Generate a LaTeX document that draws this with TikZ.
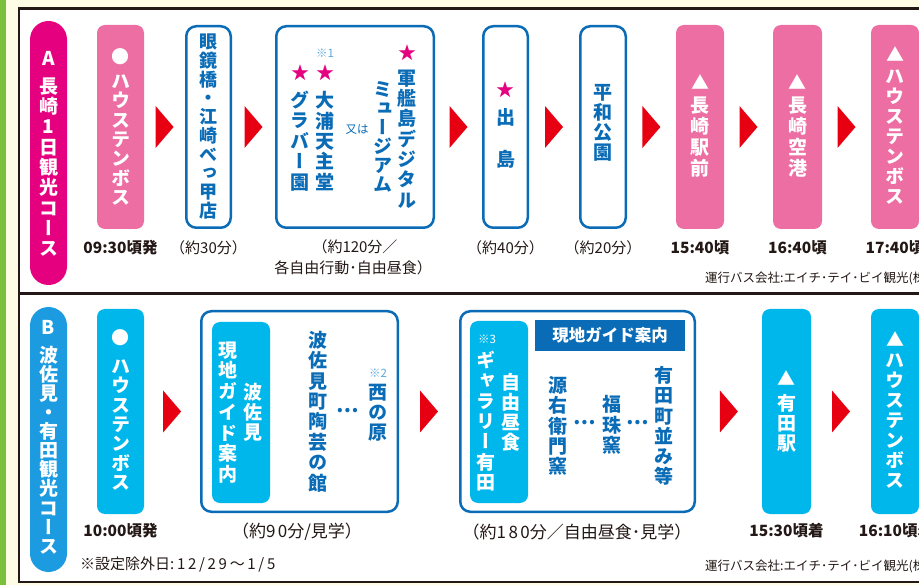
\documentclass[tikz,border=0pt]{standalone}
\usepackage{fontspec}
\setmainfont{Noto Sans CJK JP}
\newfontfamily\jpv[RawFeature=+vert, BoldFont={Noto Sans CJK JP Black}]{Noto Sans CJK JP}
\usetikzlibrary{calc}
\definecolor{cream}{HTML}{FFFCE5}
\definecolor{greenbar}{HTML}{7CBF3A}
\definecolor{framec}{HTML}{231815}
\definecolor{magc}{HTML}{E4007F}
\definecolor{pinkc}{HTML}{EC6EA2}
\definecolor{bluec}{HTML}{0A6CB6}
\definecolor{cyanc}{HTML}{00B7EC}
\definecolor{pillb}{HTML}{1C9BE0}
\definecolor{redc}{HTML}{E60012}
\definecolor{lightblue}{HTML}{5AA9DC}
\definecolor{textc}{HTML}{231815}
\makeatletter
\newcommand\vstack[2]{\vbox{\baselineskip=#1\relax\lineskiplimit=-\maxdimen\lineskip=0pt
  \@tfor\vch:=#2\do{\hbox to 1.2em{\hss\vch\hss}}}}
\makeatother
\newcommand\wdg[1]{{\addfontfeature{LetterSpace=14}#1}}
\tikzset{
  box/.style={minimum width=47pt, minimum height=204pt, inner sep=0pt, rounded corners=8pt},
  pinkbox/.style={box, fill=pinkc},
  cyanbox/.style={box, fill=cyanc},
  bluebox/.style={box, draw=bluec, line width=2.5pt, fill=white, rounded corners=10pt},
  pill/.style={minimum width=37pt, inner sep=0pt, rounded corners=18.5pt},
  vt/.style={font=\jpv\bfseries\fontsize{19}{20}\selectfont, inner sep=0pt},
  wt/.style={vt, text=white},
  bt/.style={vt, text=bluec},
  sym/.style={font=\fontsize{18}{18}\selectfont, inner sep=0pt},
  note/.style={font=\fontsize{11.5}{12}\selectfont, inner sep=0pt},
  dots/.style={font=\bfseries\fontsize{20}{20}\selectfont, text=bluec, inner sep=0pt},
  time/.style={font=\bfseries\fontsize{15.5}{16}\selectfont, text=textc, inner sep=0pt},
  dur/.style={font=\fontsize{15}{16}\selectfont, text=textc, inner sep=0pt},
  durb/.style={font=\fontsize{17}{18}\selectfont, text=textc, inner sep=0pt},
  small/.style={font=\fontsize{12.5}{13}\selectfont, text=textc, inner sep=0pt, anchor=west},
  arrowred/.style={fill=redc},
}
\newcommand\tri[2]{\fill[arrowred] ($(#1.east)!0.5!(#2.west)$) ++(-9,-21) -- ++(18,21) -- ++(-18,21) -- cycle;}
\begin{document}
\begin{tikzpicture}[x=1pt,y=-1pt]
\useasboundingbox (0,0) rectangle (919,585);
\fill[cream] (0,0) rectangle (919,585);
\fill[greenbar] (0,0) rectangle (5.5,585);
\filldraw[fill=white, draw=framec, line width=2.2pt] (19,8.5) rectangle (940,582);
\draw[framec, line width=2.2pt] (19,293.5) -- (940,293.5);

% ---------- Row A ----------
\node[pill, fill=magc, minimum height=264pt] (pa) at (48.5,153) {};
\node[font=\bfseries\fontsize{19}{19}\selectfont, text=white, inner sep=0pt] (paA) at (48.5,58) {A};
\node[wt] (pat) at (48.5,167) {\vstack{20.3pt}{長崎1日観光コース}};

\node[pinkbox] (a1) at (120.5,127) {};
\node[sym, text=white] (a1s) at (120.5,57) {●};
\node[wt] (a1t) at (120.5,140) {\vstack{19.4pt}{ハウステンボス}};

\node[bluebox, minimum width=44.5pt, minimum height=201.5pt] (a2) at (208.5,127) {};
\node[bt, font=\jpv\bfseries\fontsize{18}{19}\selectfont] (a2t) at (208.5,126.5) {\vstack{18.7pt}{眼鏡橋・江崎べっ甲店}};

\node[bluebox, minimum width=157.5pt, minimum height=201.5pt] (a3) at (355,127) {};
\node[sym, text=magc] (a3s1) at (407,53) {★};
\node[bt] (a3t1) at (407,139) {\vstack{20.3pt}{軍艦島デジタル}};
\node[bt] (a3t2) at (383,136.5) {\vstack{19pt}{ミュージアム}};
\node[font=\fontsize{11.5}{12}\selectfont, text=bluec, inner sep=0pt] (a3or) at (357,130) {又は};
\node[note, text=lightblue] (a3n) at (325,53) {※1};
\node[sym, text=magc] (a3s2) at (325,73) {★};
\node[bt] (a3t3) at (325,141) {\vstack{20.4pt}{大浦天主堂}};
\node[sym, text=magc] (a3s3) at (300,73) {★};
\node[bt] (a3t4) at (300,141) {\vstack{20.4pt}{グラバー園}};

\node[bluebox, minimum width=44.5pt, minimum height=201.5pt] (a4) at (505.5,127) {};
\node[sym, text=magc] (a4s) at (505.5,90) {★};
\node[bt] (a4t1) at (505.5,117) {出};
\node[bt] (a4t2) at (505.5,159) {島};

\node[bluebox, minimum width=45.5pt, minimum height=201.5pt] (a5) at (603,127) {};
\node[bt] (a5t) at (603,123) {\vstack{20pt}{平和公園}};

\node[pinkbox, minimum width=48pt] (a6) at (700,127) {};
\node[sym, text=white] (a6s) at (700,82) {▲};
\node[wt] (a6t) at (700,137.5) {\vstack{21pt}{長崎駅前}};

\node[pinkbox, minimum width=49pt] (a7) at (797.5,127) {};
\node[sym, text=white] (a7s) at (797.5,82) {▲};
\node[wt] (a7t) at (797.5,137.5) {\vstack{21pt}{長崎空港}};

\node[pinkbox, minimum width=48pt] (a8) at (895,127) {};
\node[sym, text=white] (a8s) at (895,54) {▲};
\node[wt] (a8t) at (895,137) {\vstack{20pt}{ハウステンボス}};

\tri{a1}{a2} \tri{a2}{a3} \tri{a3}{a4} \tri{a4}{a5} \tri{a5}{a6} \tri{a6}{a7} \tri{a7}{a8}

\node[time] (ta1) at (120.5,248) {09:30頃発};
\node[dur] (ta2) at (208.5,248) {（約30分）};
\node[dur] (ta3) at (355,247) {（約120分／};
\node[dur] (ta3b) at (353,268) {各自由行動･自由昼食）};
\node[dur] (ta4) at (505.5,248) {（約40分）};
\node[dur] (ta5) at (603,248) {（約20分）};
\node[time] (ta6) at (700,248) {15:40頃};
\node[time] (ta7) at (797.5,248) {16:40頃};
\node[time] (ta8) at (895,248) {17:40頃};
\node[small] (busa) at (705,278) {運行バス会社:エイチ･テイ･ビイ観光(株)};

% ---------- Row B ----------
\node[pill, fill=pillb, minimum height=265pt] (pb) at (48.5,439.5) {};
\node[font=\bfseries\fontsize{19}{19}\selectfont, text=white, inner sep=0pt] (pbB) at (48.5,327) {B};
\node[wt] (pbt) at (48.5,450) {\vstack{19.1pt}{波佐見・有田観光コース}};

\node[cyanbox, minimum height=205pt] (b1) at (120.5,411.5) {};
\node[sym, text=white] (b1s) at (120.5,338) {●};
\node[wt] (b1t) at (120.5,425) {\vstack{19.4pt}{ハウステンボス}};

\node[bluebox, minimum width=196.5pt, minimum height=200.5pt] (b2) at (299.5,411.5) {};
\node[cyanbox, minimum width=58pt, minimum height=181pt] (b2i) at (241,412.5) {};
\node[wt] (b2t1) at (253,412.5) {\vstack{20.3pt}{波佐見}};
\node[wt] (b2t2) at (228,412.5) {\vstack{20.7pt}{現地ガイド案内}};
\node[bt] (b2t3) at (318,411.5) {\vstack{20.4pt}{波佐見町陶芸の館}};
\node[dots] (b2d) at (348,411) {…};
\node[note, text=lightblue] (b2n) at (378,373) {※2};
\node[bt] (b2t4) at (378,412.5) {\vstack{20pt}{西の原}};

\node[bluebox, minimum width=234.5pt, minimum height=200.5pt] (b3) at (577.5,411.5) {};
\node[cyanbox, minimum width=58pt, minimum height=182pt] (b3i) at (499,412) {};
\node[note, text=white] (b3n) at (487,339) {※3};
\node[wt] (b3t1) at (486,421) {\vstack{20.3pt}{ギャラリー有田}};
\node[wt] (b3t2) at (511,412) {\vstack{20pt}{自由昼食}};
\node[fill=bluec, minimum width=150pt, minimum height=31pt, inner sep=0pt] (b3h) at (610,335.5) {};
\node[font=\bfseries\fontsize{16.5}{17}\selectfont, text=white, inner sep=0pt] (b3ht) at (610,335.5) {現地ガイド案内};
\node[bt] (b3t3) at (558,426) {\vstack{20.4pt}{源右衛門窯}};
\node[bt] (b3t4) at (612,425) {\vstack{20.4pt}{福珠窯}};
\node[bt] (b3t5) at (664,426) {\vstack{20.3pt}{有田町並み等}};
\node[dots] (b3d1) at (585,423) {…};
\node[dots] (b3d2) at (638,423) {…};

\node[cyanbox, minimum width=49pt, minimum height=205pt] (b4) at (786.5,411.5) {};
\node[sym, text=white] (b4s) at (786.5,378) {▲};
\node[wt] (b4t) at (786.5,423) {\vstack{20pt}{有田駅}};

\node[cyanbox, minimum width=48pt, minimum height=205pt] (b5) at (895,411.5) {};
\node[sym, text=white] (b5s) at (895,339) {▲};
\node[wt] (b5t) at (895,421.5) {\vstack{20pt}{ハウステンボス}};

\tri{b1}{b2} \tri{b2}{b3} \tri{b3}{b4} \tri{b4}{b5}

\node[time] (tb1) at (120.5,531) {10:00頃発};
\node[durb] (tb2) at (297,532) {（約\wdg{90}分/見学）};
\node[durb] (tb3) at (577,532) {（約\wdg{180}分／自由昼食･見学）};
\node[time] (tb4) at (786.5,531) {15:30頃着};
\node[time] (tb5) at (896,531) {16:10頃着};
\node[small, font=\fontsize{15}{15}\selectfont] (tbn) at (80,565) {※設定除外日{\addfontfeature{LetterSpace=18}:12/29〜1/5}};
\node[small] (busb) at (705,566) {運行バス会社:エイチ･テイ･ビイ観光(株)};
\end{tikzpicture}
\end{document}
